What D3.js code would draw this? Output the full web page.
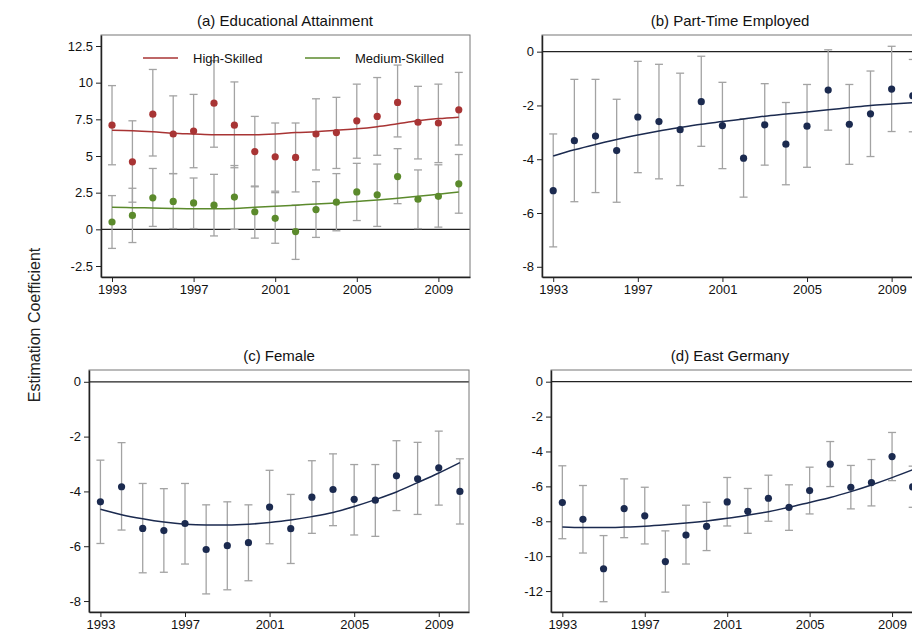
<!DOCTYPE html>
<html><head><meta charset="utf-8">
<script src="https://cdn.jsdelivr.net/npm/d3@7"></script>
<style>body{margin:0;background:#fff;} text{font-family:"Liberation Sans",Arial,sans-serif;}</style>
</head><body>
<script>
var years = d3.range(1993, 2011);
// panel (a)
var highPt = [7.1,4.6,7.85,6.5,6.7,8.6,7.1,5.3,4.95,4.9,6.5,6.6,7.4,7.7,8.65,7.3,7.25,8.15];
var highLo = [4.4,1.85,5.0,3.8,4.2,5.6,4.2,2.9,2.6,2.55,4.05,4.15,4.85,5.05,6.3,4.8,4.55,5.75];
var highHi = [9.8,7.4,10.9,9.1,9.2,11.5,10.05,7.7,7.25,7.25,8.9,9.0,9.9,10.35,11.2,9.75,9.9,10.7];
var highFit = [6.75,6.72,6.65,6.55,6.5,6.45,6.45,6.45,6.5,6.6,6.65,6.75,6.85,7.0,7.2,7.4,7.55,7.65];
var medPt = [0.5,0.95,2.15,1.9,1.8,1.65,2.2,1.2,0.75,-0.15,1.35,1.85,2.55,2.35,3.6,2.05,2.25,3.1];
var medLo = [-1.3,-0.9,0.2,0.05,0.05,-0.45,0.0,-0.6,-0.95,-2.05,-0.55,-0.1,0.6,0.2,1.75,0.05,0.15,1.1];
var medHi = [2.3,2.8,4.15,3.8,3.5,3.75,4.35,2.95,2.5,1.65,3.25,3.8,4.5,4.45,5.5,4.05,4.4,5.1];
var medFit = [1.5,1.48,1.45,1.42,1.4,1.4,1.42,1.5,1.57,1.65,1.72,1.8,1.9,2.0,2.12,2.25,2.4,2.55];
// panel (b)
var ptPt = [-5.17,-3.31,-3.14,-3.68,-2.43,-2.6,-2.9,-1.86,-2.75,-3.96,-2.72,-3.44,-2.77,-1.43,-2.7,-2.31,-1.39,-1.64];
var ptLo = [-7.26,-5.58,-5.24,-5.6,-4.5,-4.73,-4.98,-3.52,-4.35,-5.41,-4.22,-4.95,-4.3,-2.92,-4.19,-3.9,-2.97,-2.98];
var ptHi = [-3.06,-1.03,-1.03,-1.77,-0.36,-0.47,-0.8,-0.17,-1.14,-2.49,-1.19,-1.89,-1.22,0.07,-1.22,-0.72,0.2,-0.29];
var ptFit = [-3.88,-3.65,-3.45,-3.27,-3.1,-2.95,-2.82,-2.7,-2.6,-2.5,-2.4,-2.32,-2.24,-2.16,-2.08,-2.0,-1.95,-1.9];
// panel (c)
var femPt = [-4.38,-3.83,-5.35,-5.43,-5.17,-6.12,-5.98,-5.87,-4.57,-5.36,-4.21,-3.93,-4.29,-4.32,-3.43,-3.54,-3.14,-4.0];
var femLo = [-5.9,-5.41,-6.97,-6.95,-6.65,-7.74,-7.59,-7.26,-5.91,-6.63,-5.53,-5.25,-5.59,-5.64,-4.7,-4.84,-4.5,-5.19];
var femHi = [-2.86,-2.22,-3.71,-3.9,-3.71,-4.49,-4.38,-4.49,-3.23,-4.11,-2.88,-2.63,-3.02,-3.02,-2.15,-2.21,-1.8,-2.81];
var femFit = [-4.65,-4.85,-5.0,-5.12,-5.2,-5.23,-5.23,-5.2,-5.13,-5.04,-4.92,-4.77,-4.55,-4.3,-4.02,-3.68,-3.33,-2.95];
// panel (d)
var eastPt = [-6.93,-7.89,-10.72,-7.27,-7.69,-10.31,-8.79,-8.29,-6.89,-7.43,-6.68,-7.2,-6.24,-4.73,-6.05,-5.78,-4.29,-6.03];
var eastLo = [-9.0,-9.82,-12.61,-8.94,-9.3,-12.06,-10.45,-9.68,-8.27,-8.69,-8.0,-8.52,-7.58,-6.01,-7.29,-7.12,-5.67,-7.2];
var eastHi = [-4.82,-5.95,-8.82,-5.57,-6.05,-8.55,-7.08,-6.91,-5.49,-6.12,-5.36,-5.91,-4.9,-3.43,-4.8,-4.46,-2.91,-4.84];
var eastFit = [-8.33,-8.36,-8.36,-8.33,-8.28,-8.2,-8.1,-7.98,-7.83,-7.65,-7.45,-7.2,-6.92,-6.64,-6.3,-5.92,-5.5,-5.05];

var xTicks = [1993,1997,2001,2005,2009];
var navy = '#1b2a4f';

var svg = d3.select('body').append('svg').attr('width', 912).attr('height', 637);

svg.append('text').attr('transform', 'translate(40,325) rotate(-90)')
  .attr('text-anchor', 'middle').style('font-size', '16px').attr('fill', '#222')
  .text('Estimation Coefficient');

var panels = [
  { title: '(a) Educational Attainment', tx: 285, box: [101, 470, 35, 277], xd: [1992.46, 2010.55], yd: [-3.25, 13.25],
    yTicks: [-2.5, 0, 2.5, 5, 7.5, 10, 12.5],
    series: [{ pt: highPt, lo: highLo, hi: highHi, fit: highFit, col: '#a83434' },
             { pt: medPt, lo: medLo, hi: medHi, fit: medFit, col: '#5b8a2c' }], legend: true },
  { title: '(b) Part-Time Employed', tx: 730, box: [542, 935, 35, 277], xd: [1992.47, 2011.05], yd: [-8.38, 0.62],
    yTicks: [-8, -6, -4, -2, 0],
    series: [{ pt: ptPt, lo: ptLo, hi: ptHi, fit: ptFit, col: navy }] },
  { title: '(c) Female', tx: 279, box: [89, 469, 370, 612], xd: [1992.46, 2010.43], yd: [-8.4, 0.43],
    yTicks: [-8, -6, -4, -2, 0],
    series: [{ pt: femPt, lo: femLo, hi: femHi, fit: femFit, col: navy }] },
  { title: '(d) East Germany', tx: 730, box: [551, 924, 370, 612], xd: [1992.45, 2010.55], yd: [-13.2, 0.67],
    yTicks: [-12, -10, -8, -6, -4, -2, 0],
    series: [{ pt: eastPt, lo: eastLo, hi: eastHi, fit: eastFit, col: navy }] }
];

panels.forEach(function(p, i) {
  var x = d3.scaleLinear().domain(p.xd).range([p.box[0], p.box[1]]);
  var y = d3.scaleLinear().domain(p.yd).range([p.box[3], p.box[2]]);
  var g = svg.append('g');
  var clipId = 'clip' + i;
  g.append('clipPath').attr('id', clipId).append('rect')
    .attr('x', p.box[0]).attr('y', p.box[2]).attr('width', p.box[1] - p.box[0]).attr('height', p.box[3] - p.box[2]);

  g.append('text').attr('x', p.tx).attr('y', p.box[2] - 9).attr('text-anchor', 'middle')
    .style('font-size', '15px').attr('fill', '#111').text(p.title);

  var plot = g.append('g').attr('clip-path', 'url(#' + clipId + ')');
  plot.append('line').attr('x1', p.box[0]).attr('x2', p.box[1]).attr('y1', y(0)).attr('y2', y(0))
    .attr('stroke', '#222').attr('stroke-width', 1.3);

  p.series.forEach(function(s) {
    var bars = plot.append('g').selectAll('g').data(years).enter().append('g');
    bars.append('line').attr('x1', function(d){ return x(d); }).attr('x2', function(d){ return x(d); })
      .attr('y1', function(d, j){ return y(s.lo[j]); }).attr('y2', function(d, j){ return y(s.hi[j]); })
      .attr('stroke', '#a3a3a3').attr('stroke-width', 1.3);
    [s.lo, s.hi].forEach(function(arr) {
      bars.append('line').attr('x1', function(d){ return x(d) - 4; }).attr('x2', function(d){ return x(d) + 4; })
        .attr('y1', function(d, j){ return y(arr[j]); }).attr('y2', function(d, j){ return y(arr[j]); })
        .attr('stroke', '#a3a3a3').attr('stroke-width', 1.3);
    });
  });
  p.series.forEach(function(s) {
    plot.append('path').datum(years)
      .attr('d', d3.line().curve(d3.curveMonotoneX).x(function(d){ return x(d); }).y(function(d, j){ return y(s.fit[j]); }))
      .attr('fill', 'none').attr('stroke', s.col).attr('stroke-width', 1.5);
    plot.append('g').selectAll('circle').data(years).enter().append('circle')
      .attr('cx', function(d){ return x(d); }).attr('cy', function(d, j){ return y(s.pt[j]); })
      .attr('r', 3.6).attr('fill', s.col);
  });

  g.append('rect').attr('x', p.box[0]).attr('y', p.box[2]).attr('width', p.box[1] - p.box[0]).attr('height', p.box[3] - p.box[2])
    .attr('fill', 'none').attr('stroke', '#777').attr('stroke-width', 1);

  var ax = g.append('g').attr('transform', 'translate(0,' + p.box[3] + ')')
    .call(d3.axisBottom(x).tickValues(xTicks).tickFormat(d3.format('d')).tickSize(5).tickSizeOuter(0));
  var ay = g.append('g').attr('transform', 'translate(' + p.box[0] + ',0)')
    .call(d3.axisLeft(y).tickValues(p.yTicks).tickFormat(function(d){ return d; }).tickSize(5).tickSizeOuter(0));
  [ax, ay].forEach(function(a) {
    a.select('.domain').attr('stroke', '#222').attr('stroke-width', 1.5);
    a.selectAll('.tick line').attr('stroke', '#222');
    a.selectAll('text').style('font-size', '13px').attr('fill', '#111');
  });

  if (p.legend) {
    var items = [{ t: 'High-Skilled', c: '#a83434', x: 143 }, { t: 'Medium-Skilled', c: '#5b8a2c', x: 305 }];
    items.forEach(function(it) {
      g.append('line').attr('x1', it.x).attr('x2', it.x + 35).attr('y1', 58).attr('y2', 58)
        .attr('stroke', it.c).attr('stroke-width', 1.5);
      g.append('text').attr('x', it.x + 50).attr('y', 62.5).style('font-size', '13px').attr('fill', '#111').text(it.t);
    });
  }
});
</script>
</body></html>
